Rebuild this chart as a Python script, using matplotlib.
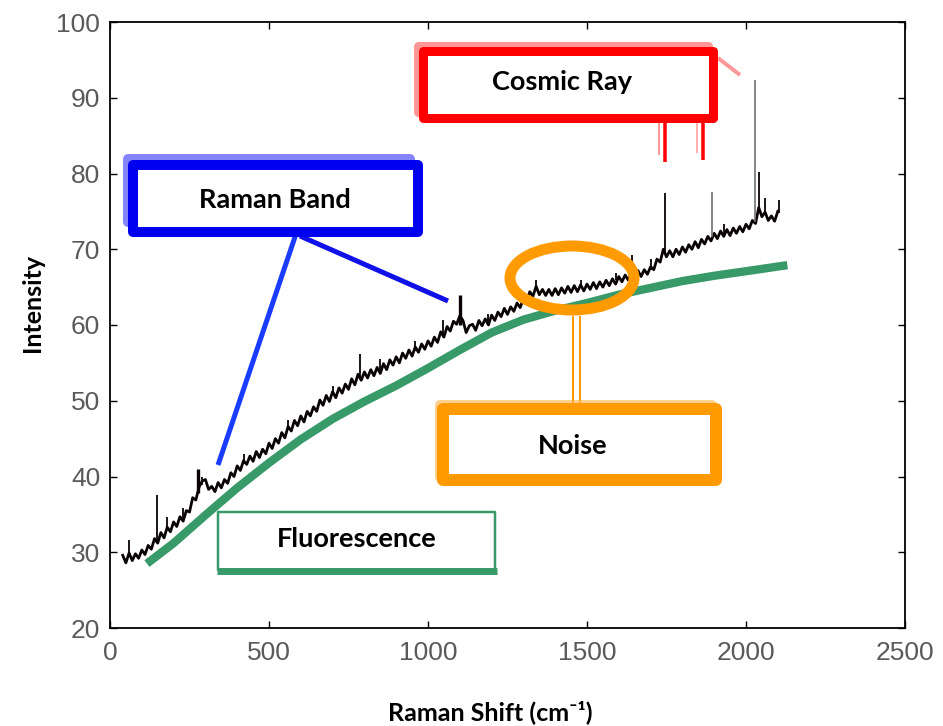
import numpy as np
import matplotlib
matplotlib.use('Agg')
import matplotlib.pyplot as plt
from matplotlib.patches import Rectangle, Ellipse
from matplotlib.lines import Line2D
from matplotlib.transforms import Affine2D

# spectrum, every 10 cm-1 (40 .. 2100)
shift = np.arange(40, 2101, 10)
intensity = [29.6, 28.6, 29.9, 28.9, 29.8, 29.2, 30.3, 29.7, 30.9, 30.4,
             31.8, 31.2, 32.6, 31.9, 33.3, 32.7, 34.0, 33.4, 34.7, 34.1,
             35.5, 35.3, 37.2, 36.9, 38.6, 39.4, 39.6, 38.3, 38.7, 38.0,
             39.2, 38.5, 39.6, 39.1, 40.5, 40.0, 41.4, 40.8, 42.1, 41.6,
             42.7, 42.0, 43.3, 42.5, 43.6, 43.0, 44.4, 43.7, 45.0, 44.4,
             45.8, 45.1, 46.6, 46.0, 47.4, 46.7, 48.0, 47.2, 48.6, 48.0,
             49.2, 48.6, 50.1, 49.4, 50.7, 49.9, 51.2, 50.4, 51.7, 51.0,
             52.2, 51.5, 52.9, 52.1, 53.5, 52.7, 53.8, 53.0, 54.1, 53.3,
             54.4, 53.6, 54.9, 54.1, 55.4, 54.7, 55.8, 55.0, 56.3, 55.6,
             56.7, 55.9, 57.1, 56.4, 57.5, 56.8, 57.9, 57.2, 58.4, 57.7,
             59.1, 58.4, 59.8, 59.2, 60.5, 60.1, 61.2, 60.6, 59.0, 59.9,
             60.1, 59.3, 60.6, 59.9, 60.8, 60.0, 61.3, 60.6, 61.7, 61.1,
             62.2, 61.4, 62.4, 61.8, 62.9, 62.3, 63.5, 63.0, 64.4, 63.8,
             65.1, 64.0, 64.7, 63.9, 64.7, 63.9, 64.8, 64.0, 64.9, 64.2,
             65.1, 64.3, 65.2, 64.4, 65.3, 64.5, 65.4, 64.7, 65.6, 64.8,
             65.7, 65.0, 65.9, 65.2, 66.1, 65.4, 66.4, 65.7, 66.6, 65.9,
             66.9, 66.1, 67.2, 66.4, 67.3, 66.7, 67.7, 67.3, 68.7, 68.3,
             70.0, 69.0, 69.8, 69.0, 70.0, 69.3, 70.3, 69.6, 70.6, 70.0,
             71.0, 70.2, 71.3, 70.7, 71.7, 71.1, 72.1, 71.4, 72.4, 71.7,
             72.6, 71.8, 72.8, 72.1, 73.0, 72.3, 73.3, 72.7, 73.8, 73.4,
             75.5, 74.3, 74.9, 73.8, 74.4, 73.7, 75.0]

# narrow spikes on top of the spectrum
spike_x = [60, 148, 180, 230, 290, 420, 560, 700, 786, 850, 960, 1047, 1190,
           1340, 1480, 1590, 1640, 1700, 1745, 1930, 2040, 2060, 2104]
spike_lo = [29.6, 31.5, 33.0, 34.3, 38.9, 41.7, 46.1, 50.7, 53.2, 54.0, 56.6, 58.5, 60.3,
            64.6, 64.9, 65.9, 66.3, 67.3, 69.5, 72.0, 74.8, 74.5, 74.8]
spike_hi = [31.6, 37.6, 34.6, 35.8, 40.0, 43.0, 47.5, 52.0, 56.2, 55.5, 57.9, 60.6, 61.5,
            65.9, 66.0, 66.9, 69.2, 68.7, 77.4, 73.3, 80.2, 76.8, 76.5]
grey_x = [1893, 2028]
grey_lo = [71.6, 73.6]
grey_hi = [77.5, 92.3]
band_x = [277, 1100]
band_lo = [37.8, 60.0]
band_hi = [41.0, 63.9]

# fluorescence background
fl_x = [116, 200, 300, 400, 500, 600, 700, 800, 900, 1000, 1100,
        1200, 1300, 1400, 1500, 1600, 1700, 1800, 1900, 2000, 2130]
fl_y = [28.5, 31.2, 34.9, 38.5, 41.8, 44.9, 47.6, 49.9, 52.0, 54.3, 56.7,
        59.0, 60.7, 61.9, 62.9, 64.0, 64.9, 65.8, 66.5, 67.1, 67.9]

W, H = 943, 726
fig = plt.figure(figsize=(W / 100, H / 100), dpi=100)
ax = fig.add_axes([110 / W, 1 - 628 / H, 795 / W, 606 / H])

green = '#389a68'
ax.plot(fl_x, fl_y, color=green, lw=6, solid_capstyle='butt', zorder=2)
ax.plot(shift, intensity, color='#0a0303', lw=2.0, zorder=3)
ax.vlines(spike_x, spike_lo, spike_hi, color='#0a0303', lw=1.3, zorder=3)
ax.vlines(grey_x, grey_lo, grey_hi, color='#707070', lw=1.2, zorder=3)
ax.vlines(band_x, band_lo, band_hi, color='#0a0303', lw=2.4, zorder=3)

ax.set_xlim(0, 2500)
ax.set_ylim(20, 100)
ax.set_xticks(range(0, 2501, 500))
ax.set_yticks(range(20, 101, 10))
ax.tick_params(direction='in', length=5, width=1, top=True, right=True,
               labelsize=19, labelcolor='#5a5a5a')
ax.tick_params(axis='x', pad=9)
ax.tick_params(axis='y', pad=7)
for lab in ax.get_xticklabels() + ax.get_yticklabels():
    lab.set_family('Liberation Sans')
for s in ax.spines.values():
    s.set_linewidth(1.3)

ax.set_xlabel('Raman Shift (cm\u207b\u00b9)', fontsize=18, fontweight='bold',
              family=['Lato', 'DejaVu Sans'], va='center')
ax.xaxis.set_label_coords((490 - 110) / 795, (628 - 712) / 606)
ax.set_ylabel('Intensity', fontsize=18, fontweight='bold', family='Lato', va='center')
ax.yaxis.set_label_coords((32 - 110) / 795, (628 - 303) / 606)

# callouts, drawn in picture pixels (y downwards)
pix = Affine2D().scale(1.0 / W, -1.0 / H).translate(0, 1) + fig.transFigure


def frame(x0, y0, x1, y1, color, lw, alpha=1.0, fill='none'):
    r = Rectangle((x0, y0), x1 - x0, y1 - y0, transform=pix, facecolor=fill,
                  edgecolor=color, lw=lw * 0.72, joinstyle='round', zorder=5)
    if alpha < 1:
        r.set_edgecolor(matplotlib.colors.to_rgba(color, alpha))
    fig.add_artist(r)


def seg(xs, ys, color, lw, alpha=1.0):
    fig.add_artist(Line2D(xs, ys, transform=pix, color=color, lw=lw * 0.72,
                          alpha=alpha, solid_capstyle='butt', zorder=5))


def label(x, y, s):
    fig.text(x / W, 1 - y / H, s, ha='center', va='center', fontsize=19.5,
             fontweight='bold', family='Lato', zorder=6)


# Cosmic Ray
red = '#ff0000'
seg([718, 740], [58, 75], '#ff7f7f', 4, 0.8)
seg([659, 659], [118, 155], '#ff8080', 2, 0.8)
seg([697, 697], [118, 153], '#ff9090', 2, 0.7)
seg([665, 665], [118, 162], red, 3.5)
seg([703, 703], [118, 160], red, 3.5)
frame(418, 46, 708, 112, '#ff5050', 9, 0.6)
frame(423, 51, 713, 118, red, 9, 1.0, 'white')
label(562, 82, 'Cosmic Ray')

# Raman Band
blue = '#0000f0'
seg([297, 218], [231, 465], '#1a3cff', 5)
seg([300, 448], [236, 301], '#1010e8', 5)
frame(128, 159, 410, 222, '#5050ff', 10, 0.7)
frame(133, 165, 418, 232, blue, 10, 1.0, 'white')
label(275, 200, 'Raman Band')

# Noise
orange = '#ff9a00'
fig.add_artist(Ellipse((572, 278), 124, 64, transform=pix, facecolor='none',
                       edgecolor=orange, lw=11 * 0.72, zorder=5))
seg([573, 573], [316, 405], orange, 2)
seg([580, 580], [316, 405], orange, 2)
frame(440, 405, 712, 477, '#ffb040', 10, 0.6)
frame(443, 409, 716, 480, orange, 12, 1.0, 'white')
label(573, 446, 'Noise')

# Fluorescence
frame(218, 512, 495, 570, green, 2.5, 1.0, 'white')
seg([217, 497], [571, 571], green, 7)
label(357, 539, 'Fluorescence')

fig.savefig('out.png', dpi=100)
